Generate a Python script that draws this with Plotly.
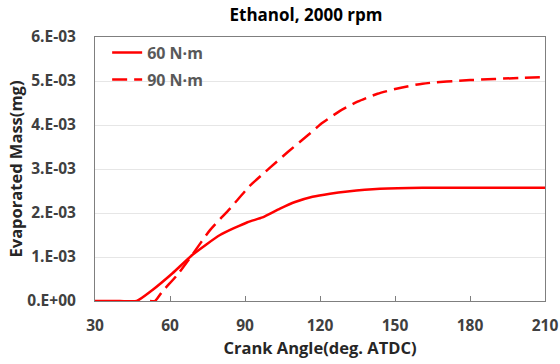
import plotly.graph_objects as go

angle_60 = [30, 40, 46.7, 53, 61, 69, 80, 91, 97, 104, 110, 117, 124, 131, 144, 161, 180, 210]
mass_60 = [0, 0, 0, 0.00025, 0.00063, 0.00105, 0.0015, 0.00179, 0.0019, 0.0021, 0.00225, 0.00237, 0.00244, 0.00249, 0.00255, 0.002575, 0.002575, 0.002575]

angle_90 = [52, 54, 57, 63, 69, 76, 84, 92, 100, 107, 115, 121, 128, 135, 143, 151, 161, 180, 200, 210]
mass_90 = [0, 0, 0.00022, 0.0006, 0.00106, 0.00161, 0.0021, 0.00262, 0.00303, 0.00338, 0.00376, 0.00405, 0.00432, 0.00453, 0.00471, 0.00483, 0.00494, 0.00502, 0.00507, 0.00509]

y_tickvals = [0, 0.001, 0.002, 0.003, 0.004, 0.005, 0.006]
y_ticktext = ["0.E+00", "1.E-03", "2.E-03", "3.E-03", "4.E-03", "5.E-03", "6.E-03"]
x_tickvals = [30, 60, 90, 120, 150, 180, 210]

font_family = "'Open Sans', sans-serif"

fig = go.Figure()
fig.add_trace(go.Scatter(x=angle_60, y=mass_60, mode="lines", name="<b>60 N\u00b7m</b>", legendgroup="a",
                         line=dict(color="#ff0000", width=2.5, shape="spline", smoothing=0.5)))
fig.add_trace(go.Scatter(x=angle_90, y=mass_90, mode="lines", name="<b>90 N\u00b7m</b>", legendgroup="b",
                         line=dict(color="#ff0000", width=2.5, dash="15px,7px", shape="spline", smoothing=0.6)))

fig.update_layout(
    width=560, height=364,
    margin=dict(l=95, r=15, t=37, b=63),
    paper_bgcolor="white", plot_bgcolor="white",
    font=dict(family=font_family, color="#404040"),
    title=dict(text="<b>Ethanol, 2000 rpm</b>", x=306 / 560, xanchor="center", y=1 - 15 / 364, yanchor="middle",
               font=dict(size=17, color="#000000", family=font_family)),
    showlegend=True,
    legend=dict(x=0.027, y=1.005, xanchor="left", yanchor="top", bgcolor="rgba(0,0,0,0)",
                font=dict(size=16, color="#595959", family=font_family), tracegroupgap=3,
                traceorder="grouped", itemwidth=30),
    xaxis=dict(range=[30, 210], tickvals=x_tickvals, ticktext=["<b>%d</b>" % v for v in x_tickvals],
               ticks="inside", ticklen=5, tickcolor="#7f7f7f", ticklabelstandoff=10, automargin=False,
               showgrid=False, zeroline=False, showline=True, linecolor="#7f7f7f", linewidth=1, mirror=True,
               tickfont=dict(size=15.5, color="#404040", family=font_family),
               title=dict(text="<b>Crank Angle(deg. ATDC)</b>", font=dict(size=16.5, color="#262626", family=font_family), standoff=2)),
    yaxis=dict(range=[0, 0.006], tickvals=y_tickvals, ticktext=["<b>%s</b>" % t for t in y_ticktext], ticks="",
               ticklabelstandoff=15, automargin=False,
               showgrid=True, gridcolor="#e6e6e6", zeroline=False, showline=True, linecolor="#7f7f7f", linewidth=1, mirror=True,
               tickfont=dict(size=15.5, color="#404040", family=font_family),
               title=dict(text="<b>Evaporated Mass(mg)</b>", font=dict(size=16.5, color="#262626", family=font_family), standoff=0)),
)

fig.write_html("out.html")
